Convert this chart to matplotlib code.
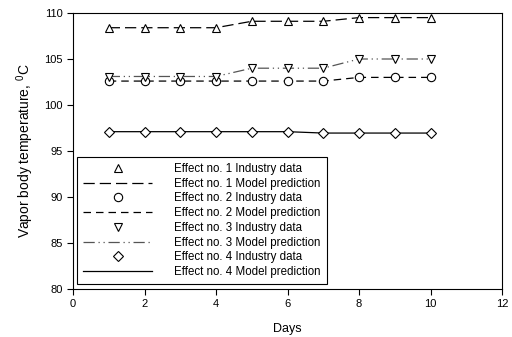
import matplotlib
matplotlib.use('Agg')
import matplotlib.pyplot as plt

plt.rcParams['font.family'] = ['Liberation Sans', 'DejaVu Sans']
plt.rcParams['mathtext.fontset'] = 'custom'
plt.rcParams['mathtext.rm'] = 'Liberation Sans'

days = [1, 2, 3, 4, 5, 6, 7, 8, 9, 10]
e1_data = [108.4, 108.4, 108.4, 108.4, 109.1, 109.1, 109.1, 109.5, 109.5, 109.5]
e1_model = [108.4, 108.4, 108.4, 108.4, 109.1, 109.1, 109.1, 109.5, 109.5, 109.5]
e2_data = [102.6, 102.6, 102.6, 102.6, 102.6, 102.6, 102.6, 103.0, 103.0, 103.0]
e2_model = [102.6, 102.6, 102.6, 102.6, 102.6, 102.6, 102.6, 103.0, 103.0, 103.0]
e3_data = [103.0, 103.0, 103.0, 103.0, 104.0, 104.0, 104.0, 105.0, 105.0, 105.0]
e3_model = [103.1, 103.1, 103.1, 103.1, 104.0, 104.0, 104.0, 105.0, 105.0, 105.0]
e4_data = [97.1, 97.1, 97.1, 97.1, 97.1, 97.1, 96.95, 96.95, 96.95, 96.95]
e4_model = [97.1, 97.1, 97.1, 97.1, 97.1, 97.1, 96.95, 96.95, 96.95, 96.95]

fig = plt.figure(figsize=(5.12, 3.37), dpi=100)
ax = fig.add_axes([73/512, 48/337, 429/512, 276/337])

mk = dict(linestyle='none', markerfacecolor='white', markeredgecolor='black',
          markersize=6, markeredgewidth=0.8, zorder=3)
ax.plot(days, e1_data, marker='^', label='Effect no. 1 Industry data', **mk)
ax.plot(days, e1_model, color='black', lw=0.9, dashes=(9, 4), label='Effect no. 1 Model prediction')
ax.plot(days, e2_data, marker='o', label='Effect no. 2 Industry data', **mk)
ax.plot(days, e2_model, color='black', lw=0.9, dashes=(6, 4), label='Effect no. 2 Model prediction')
ax.plot(days, e3_data, marker='v', label='Effect no. 3 Industry data', **mk)
ax.plot(days, e3_model, color='#555555', lw=0.9, dashes=(9, 3, 1, 3, 1, 3), label='Effect no. 3 Model prediction')
ax.plot(days, e4_data, marker='D', label='Effect no. 4 Industry data',
        **{**mk, 'markersize': 5.5})
ax.plot(days, e4_model, color='black', lw=0.9, label='Effect no. 4 Model prediction')

ax.set_xlim(0, 12)
ax.set_ylim(80, 110)
ax.set_xticks([0, 2, 4, 6, 8, 10, 12])
ax.set_yticks([80, 85, 90, 95, 100, 105, 110])
ax.tick_params(direction='out', labelsize=8, length=4, width=0.8, top=False, right=False)
for s in ax.spines.values():
    s.set_linewidth(0.8)

ax.set_xlabel('Days', fontsize=9, labelpad=10)
ax.set_ylabel(r'Vapor body temperature, $^{0}$C', fontsize=10, labelpad=6)

leg = ax.legend(loc='lower left', bbox_to_anchor=(0.005, 0.01), fontsize=8.3,
                frameon=True, fancybox=False, edgecolor='black', framealpha=1,
                handlelength=6, labelspacing=0.24, handletextpad=1.9,
                borderpad=0.5, borderaxespad=0.2)
leg.get_frame().set_linewidth(0.8)

fig.savefig('out.png', dpi=100)
